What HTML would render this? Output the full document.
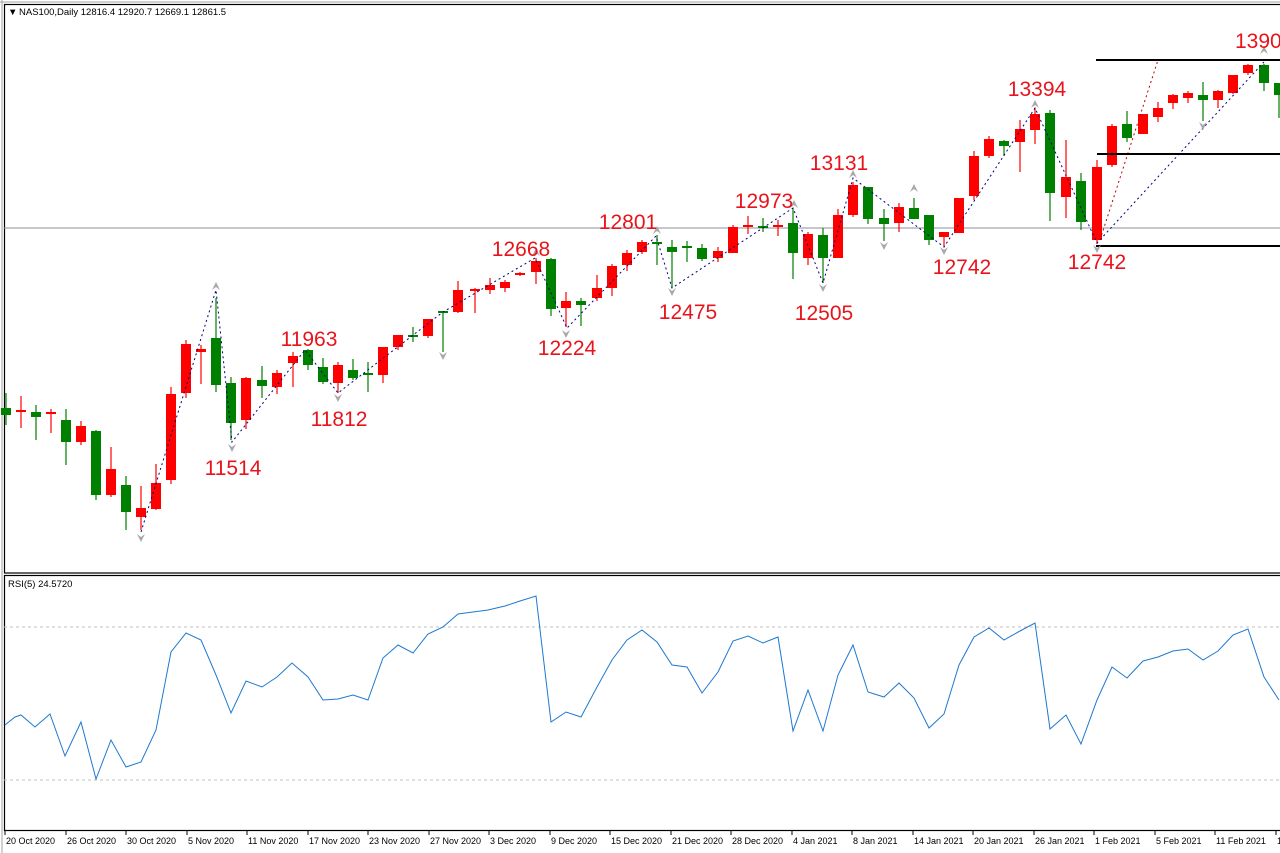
<!DOCTYPE html>
<html><head><meta charset="utf-8"><style>
html,body{margin:0;padding:0;background:#fff;width:1280px;height:853px;overflow:hidden}
svg{display:block}
text{font-family:"Liberation Sans",Arial,sans-serif}
</style></head><body>
<svg id="s" width="1280" height="853" viewBox="0 0 1280 853" xmlns="http://www.w3.org/2000/svg">
<rect x="0" y="0" width="1280" height="853" fill="#fff"/>
<line x1="0" y1="2" x2="1280" y2="2" stroke="#a0a0a0" stroke-width="1"/>
<line x1="2" y1="0" x2="2" y2="853" stroke="#a0a0a0" stroke-width="1"/>
<rect x="4.5" y="4.5" width="1280" height="568.5" fill="none" stroke="#000" stroke-width="1.2"/>
<rect x="4.5" y="575.5" width="1280" height="255" fill="none" stroke="#000" stroke-width="1.2"/>
<line x1="4" y1="228" x2="1280" y2="228" stroke="#8a9098" stroke-width="1"/>
<line x1="4" y1="627" x2="1280" y2="627" stroke="#c0c0c0" stroke-dasharray="3,3"/>
<line x1="4" y1="780" x2="1280" y2="780" stroke="#c0c0c0" stroke-dasharray="3,3"/>
<text x="8" y="15" font-size="9.5" fill="#000">▼</text>
<text x="19" y="15" font-size="9.5" fill="#000">NAS100,Daily  12816.4 12920.7 12669.1 12861.5</text>
<text x="8" y="587" font-size="9.5" fill="#000">RSI(5) 24.5720</text>
<g id="c"></g>
</svg>
<script>
var C=[
[6,'g',393,408,415,425],[21,'r',396,410,412,428],[36,'g',405,412,417,440],[51,'r',409,412,414,433],
[66,'g',409,420,442,465],[81,'r',421,426,442,445],[96,'g',430,431,495,500],[111,'r',447,469,495,497],
[126,'g',476,485,512,530],[141,'r',486,508,517,530],[156,'r',464,483,509,510],[171,'r',387,394,480,484],
[186,'r',340,344,393,398],[201,'r',345,349,352,384],[216,'g',298,338,385,392],[231,'g',377,383,423,440],
[246,'r',377,378,420,429],[262,'g',366,380,386,398],[277,'r',370,373,387,394],[293,'r',352,356,363,387],
[308,'g',349,350,365,370],[323,'g',358,367,382,384],[338,'r',362,365,383,393],[353,'g',359,370,378,380],
[368,'g',362,373,375,392],[383,'r',347,347,375,383],[398,'r',335,335,347,350],[413,'g',327,335,337,342],
[428,'r',319,319,336,338],[443,'g',311,311,313,352],[458,'r',281,290,312,313],[475,'r',288,289,291,313],
[490,'r',278,285,290,294],[505,'r',280,282,288,292],[520,'r',272,273,275,276],[536,'r',258,261,272,284],
[551,'g',258,259,309,316],[566,'r',292,301,308,327],[581,'g',298,301,305,326],[597,'r',275,288,298,301],
[612,'r',264,266,288,296],[627,'r',250,253,265,271],[642,'r',240,242,252,254],[657,'g',235,242,244,265],
[672,'g',240,247,252,288],[687,'g',241,246,248,262],[702,'g',244,248,259,261],[718,'r',247,251,258,262],
[733,'r',225,227,253,253],[748,'r',216,225,227,234],[763,'g',218,226,228,232],[778,'r',220,225,227,236],
[793,'g',208,223,253,279],[808,'r',232,234,258,265],[823,'g',228,235,258,283],[838,'r',209,215,258,258],
[853,'r',182,185,215,217],[868,'g',187,187,219,224],[884,'g',209,218,224,241],[899,'r',203,207,223,232],
[914,'g',198,208,219,219],[929,'g',215,215,240,245],[944,'r',232,232,237,246],[959,'r',198,198,233,233],
[974,'r',151,156,196,200],[989,'r',136,139,156,158],[1004,'g',140,141,146,156],[1020,'r',120,129,142,172],
[1035,'r',108,114,130,144],[1050,'g',110,113,193,221],[1066,'r',140,177,197,218],[1081,'g',173,181,222,230],
[1097,'r',160,167,240,244],[1112,'r',124,126,165,167],[1127,'g',111,124,138,142],[1143,'r',114,114,134,134],
[1158,'r',102,108,117,122],[1173,'r',94,95,103,109],[1188,'r',91,93,98,103],[1203,'g',82,95,100,121],
[1218,'r',90,91,100,108],[1233,'r',75,75,93,94],[1248,'r',64,65,73,75],[1264,'g',64,65,83,91],[1279,'g',83,83,95,118]];
var h='';
C.forEach(function(c){var col=c[1]=='r'?'#ff0000':'#008000';var x=c[0];
h+='<line x1="'+x+'" y1="'+c[2]+'" x2="'+x+'" y2="'+c[5]+'" stroke="'+col+'" stroke-width="1.2"/>';
var bh=Math.max(c[4]-c[3],2);
h+='<rect x="'+(x-5)+'" y="'+c[3]+'" width="10" height="'+bh+'" fill="'+col+'"/>';});
// zigzag
var Z=[[141,532],[216,290],[232,442],[305,350],[338,393],[443,312],[535,258],[567,328],[656,236],[672,288],[793,208],[823,283],[853,178],[944,247],[1035,108],[1097,243],[1264,62]];
h+='<polyline points="'+Z.map(function(p){return p.join(',')}).join(' ')+'" fill="none" stroke="#000080" stroke-width="1" stroke-dasharray="2,3"/>';
h+='<line x1="1100" y1="240" x2="1158" y2="60" stroke="#c00000" stroke-width="1" stroke-dasharray="2,3"/>';
h+='<line x1="1096" y1="60" x2="1280" y2="60" stroke="#000" stroke-width="2"/>';
h+='<line x1="1097" y1="154" x2="1280" y2="154" stroke="#000" stroke-width="2"/>';
h+='<line x1="1096" y1="246" x2="1280" y2="246" stroke="#000" stroke-width="2"/>';
// fractal arrows
var A=[[141,538,0],[216,286,1],[232,448,0],[338,398,0],[443,356,0],[536,252,1],[566,334,0],[657,230,1],[672,292,0],[794,204,1],[823,288,0],[853,174,1],[884,246,0],[914,188,1],[944,251,0],[1035,104,1],[1097,249,0],[1203,126,0],[1264,50,1]];
A.forEach(function(a){var x=a[0],y=a[1];
if(a[2])h+='<path d="M'+(x-4)+','+(y+4)+' L'+x+','+(y-4)+' L'+(x+4)+','+(y+4)+' L'+x+','+(y+1)+'Z" fill="#a8a8a8"/>';
else h+='<path d="M'+(x-4)+','+(y-4)+' L'+x+','+(y+4)+' L'+(x+4)+','+(y-4)+' L'+x+','+(y-1)+'Z" fill="#a8a8a8"/>';});
var L=[['11514',233,475],['11963',309,346],['11812',339,426],['12668',521,256],['12224',567,355],['12801',628,229],['12475',688,319],['12973',764,208],['13131',839,170],['12505',824,320],['12742',962,274],['13394',1037,96],['12742',1097,269]];
L.forEach(function(l){h+='<text x="'+l[1]+'" y="'+l[2]+'" font-size="21" fill="#e8141c" text-anchor="middle">'+l[0]+'</text>';});
h+='<text x="1235" y="48" font-size="21" fill="#e8141c">13903</text>';
// RSI
var R=[[5,725],[15,717],[21,715],[35,727],[50,714],[65,756],[81,722],[96,779],[111,740],[126,767],[141,762],[156,730],[171,652],[186,633],[201,640],[216,675],[231,713],[246,681],[262,687],[277,677],[292,663],[308,677],[323,700],[338,699],[353,695],[368,700],[383,658],[398,645],[413,653],[428,634],[443,627],[458,614],[473,612],[488,610],[505,606],[520,601],[536,596],[551,722],[566,712],[581,717],[597,687],[612,660],[627,640],[642,630],[657,642],[672,665],[687,667],[702,693],[718,672],[733,641],[748,636],[763,643],[778,637],[793,731],[808,690],[823,731],[838,675],[853,645],[868,692],[884,697],[899,683],[914,698],[929,728],[944,714],[959,665],[974,637],[989,628],[1004,640],[1020,631],[1035,623],[1050,729],[1066,715],[1081,744],[1097,700],[1112,667],[1127,678],[1143,661],[1158,657],[1173,651],[1188,649],[1203,660],[1218,651],[1233,635],[1248,629],[1264,677],[1279,700]];
h+='<polyline points="'+R.map(function(p){return p.join(',')}).join(' ')+'" fill="none" stroke="#1e78d0" stroke-width="1"/>';
var D=['20 Oct 2020','26 Oct 2020','30 Oct 2020','5 Nov 2020','11 Nov 2020','17 Nov 2020','23 Nov 2020','27 Nov 2020','3 Dec 2020','9 Dec 2020','15 Dec 2020','21 Dec 2020','28 Dec 2020','4 Jan 2021','8 Jan 2021','14 Jan 2021','20 Jan 2021','26 Jan 2021','1 Feb 2021','5 Feb 2021','11 Feb 2021','17 Feb 2021'];
D.forEach(function(d,i){var x=Math.round(5+60.5*i);h+='<line x1="'+x+'" y1="831" x2="'+x+'" y2="835" stroke="#000"/><text x="'+(x+1)+'" y="844" font-size="9" fill="#000">'+d+'</text>';});
document.getElementById('c').innerHTML=h;
</script>
</body></html>
